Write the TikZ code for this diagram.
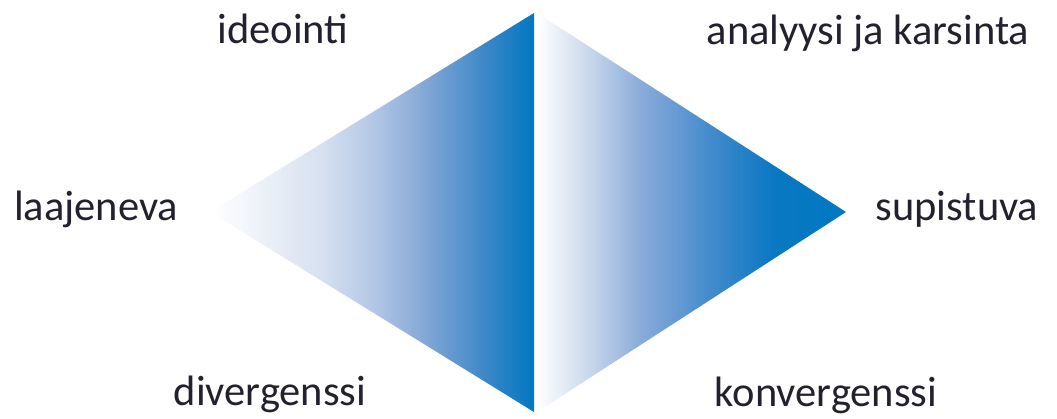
\documentclass[tikz,border=0pt]{standalone}
\usepackage{fontspec}
\setmainfont{Carlito}
\definecolor{diamondblue}{RGB}{0,120,193}
\definecolor{labeltext}{RGB}{35,33,45}
\pgfdeclarehorizontalshading{widenfade}{100bp}{color(0bp)=(white); color(25bp)=(white);
  color(42bp)=(rgb,255:red,215;green,225;blue,240); color(50bp)=(rgb,255:red,180;green,200;blue,230);
  color(57.5bp)=(rgb,255:red,135;green,170;blue,215); color(67.5bp)=(rgb,255:red,60;green,135;blue,200);
  color(75bp)=(diamondblue); color(100bp)=(diamondblue)}
\pgfdeclarehorizontalshading{narrowfade}{100bp}{color(0bp)=(white); color(25bp)=(white);
  color(33.5bp)=(rgb,255:red,200;green,215;blue,235); color(41.5bp)=(rgb,255:red,140;green,172;blue,218);
  color(52.5bp)=(rgb,255:red,70;green,140;blue,205); color(63bp)=(rgb,255:red,10;green,120;blue,195);
  color(75bp)=(diamondblue); color(100bp)=(diamondblue)}
\begin{document}
\begin{tikzpicture}[x=1pt,y=-1pt,
    lbl/.style={anchor=base,inner sep=0pt,text=labeltext,font=\fontsize{42.5}{50}\selectfont}]
            \useasboundingbox (0,0) rectangle (1057,419);
            \coordinate (ltop) at (534,13);
            \coordinate (lbot) at (534,412);
            \coordinate (lapex) at (210,212);
            \coordinate (rtop) at (537,13);
            \coordinate (rbot) at (537,412);
            \coordinate (rapex) at (846,212);
            \shade[shading=widenfade] (lapex) -- (ltop) -- (lbot) -- cycle;
            \shade[shading=narrowfade] (rtop) -- (rapex) -- (rbot) -- cycle;
            \node[lbl] (ideointi) at (283,44) {ideointi};
            \node[lbl] (analyysi) at (868,45) {analyysi ja karsinta};
            \node[lbl] (laajeneva) at (96,221) {laajeneva};
            \node[lbl] (supistuva) at (957,221) {supistuva};
            \node[lbl] (divergenssi) at (270,405) {divergenssi};
            \node[lbl] (konvergenssi) at (826,406) {konvergenssi};
        \end{tikzpicture}
\end{document}
